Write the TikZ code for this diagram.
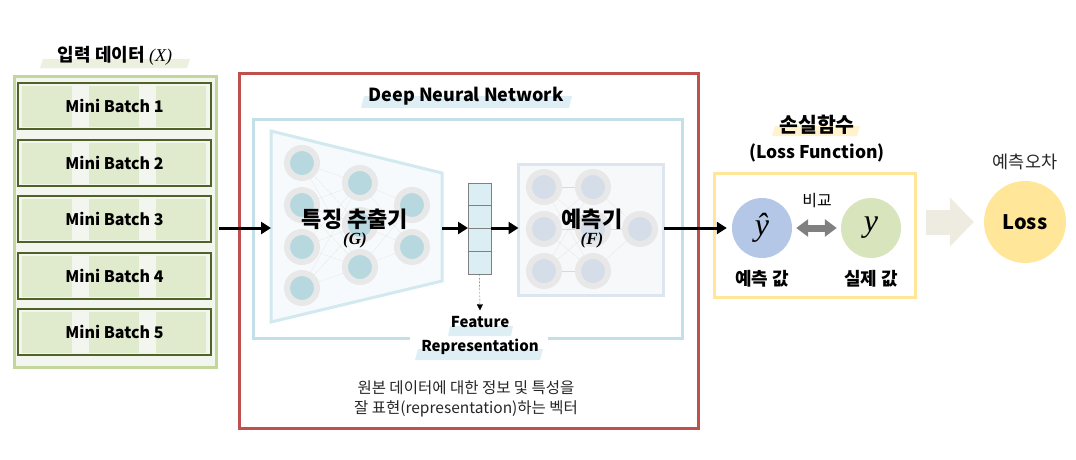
\documentclass[tikz,border=0pt]{standalone}
\usepackage{fontspec}
\setmainfont{Noto Sans CJK KR}
\newfontfamily\symserif{Liberation Serif}
\usetikzlibrary{positioning,calc,arrows.meta}

\definecolor{inborder}{HTML}{C4D79B}
\definecolor{infill}{HTML}{F3F6EE}
\definecolor{batchline}{HTML}{4F6228}
\definecolor{patchgreen}{HTML}{E0EACD}
\definecolor{hlgreen}{HTML}{EBF1DE}
\definecolor{hlblue}{HTML}{DDEFF4}
\definecolor{hlyellow}{HTML}{FFF2CC}
\definecolor{dnnred}{HTML}{C0504D}
\definecolor{netblue}{HTML}{C3E0E8}
\definecolor{trapline}{HTML}{D2E9F0}
\definecolor{trapfill}{HTML}{F7FAFC}
\definecolor{ringgray}{HTML}{E8E8E8}
\definecolor{cellG}{HTML}{B7D8DF}
\definecolor{cellF}{HTML}{D5DDE9}
\definecolor{wiregray}{HTML}{D9D9D9}
\definecolor{vecfill}{HTML}{DBEEF4}
\definecolor{fline}{HTML}{DCE5F0}
\definecolor{ffill}{HTML}{F7F8FA}
\definecolor{lossline}{HTML}{FFE699}
\definecolor{predblue}{HTML}{B4C7E7}
\definecolor{truegreen}{HTML}{D8E4BC}
\definecolor{palearrow}{HTML}{EEECE1}
\definecolor{desctext}{HTML}{262626}

\begin{document}
\begin{tikzpicture}[x=1pt,y=-1pt]

\tikzstyle{batch}=[draw=batchline,line width=2pt,outer sep=0pt,minimum width=193pt,minimum height=46pt,font=\fontsize{16}{19}\selectfont\bfseries]
\tikzstyle{patch}=[fill=patchgreen]
\tikzstyle{neuronG}=[circle,draw=ringgray,line width=6pt,fill=cellG,minimum size=30pt,inner sep=0pt]
\tikzstyle{neuronF}=[neuronG,fill=cellF]
\tikzstyle{wire}=[ultra thin,draw=wiregray]
\tikzstyle{flow}=[line width=3pt,-{Triangle[length=10pt,width=12pt]}]
\tikzstyle{title}=[font=\fontsize{18}{22}\selectfont\bfseries]
\tikzstyle{netname}=[font=\fontsize{22}{26}\selectfont\bfseries,inner sep=1pt]
\tikzstyle{netsym}=[font=\fontsize{17}{20}\selectfont\symserif\bfseries\itshape,inner sep=1pt]
\tikzstyle{valname}=[font=\fontsize{18}{22}\selectfont\bfseries]
\tikzstyle{valsym}=[circle,minimum size=60pt,inner sep=0pt,font=\fontsize{32}{36}\selectfont\symserif\itshape]

\useasboundingbox (0,0) rectangle (1076,459);

\coordinate (axis) at (0,228);

% Input data

\fill[hlgreen] (43,59) -- (190,59) -- (187,68) -- (40,68) -- cycle;
\node (xtitle) [title] at (115,56) {입력 데이터 {\symserif\mdseries\itshape(X)}};

\node (inbox) [draw=inborder,fill=infill,line width=3pt,outer sep=0pt,minimum width=202pt,minimum height=291pt,anchor=north west] at (14.5,76.5) {};

\foreach \i in {1,...,5}{
  \pgfmathsetmacro{\yc}{106+(\i-1)*56.5}
  \foreach \px in {22,89,156}
    \fill[patch] (\px,\yc-20) rectangle ++(50,41);
  \node (batch\i) [batch] at (114.5,\yc) {Mini Batch \i};
}

% Deep neural network

\node (dnn) [draw=dnnred,line width=3pt,outer sep=0pt,minimum width=459pt,minimum height=355pt,anchor=north west] at (239.5,73.5) {};

\fill[hlblue] (364,96) -- (572,96) -- (569,108) -- (361,108) -- cycle;
\node (dnntitle) [title] at (466,96) {Deep Neural Network};

\draw [netblue,line width=3pt] (410,338) -- (253.5,338) -- (253.5,119.5) -- (682.5,119.5) -- (682.5,338) -- (548,338);

% Feature extractor G

\draw [trapline,fill=trapfill,line width=3pt] (271,131) coordinate (tnw) -- (442,173) coordinate (tne) -- (442,281) coordinate (tse) -- (271,322) coordinate (tsw) -- cycle;

\foreach \n/\x/\y in {g11/302/163,g12/302/205,g13/302/247,g14/302/288,g21/360/183,g22/360/225,g23/360/267,g31/412/205,g32/412/247}
  \node (\n) [neuronG] at (\x,\y) {};

\foreach \a in {g11,g12,g13,g14}
  \foreach \b in {g21,g22,g23}
    \draw [wire] (\a) -- (\b);
\foreach \a in {g21,g22,g23}
  \foreach \b in {g31,g32}
    \draw [wire] (\a) -- (\b);

\node (gname) [netname] at (355,219) {특징 추출기};
\node (gsym) [netsym,below=1pt of gname] {(G)};

% Feature representation

\node (fvec) [draw=gray,fill=vecfill,thick,outer sep=0pt,minimum width=23pt,minimum height=91pt] at (479.5,228.5) {};
\foreach \k in {1,2,3}
  \draw [gray,thick] ($(fvec.north west)!\k/4!(fvec.south west)$) -- ($(fvec.north east)!\k/4!(fvec.south east)$);

\fill[hlblue] (450,326) -- (513,326) -- (511,336) -- (448,336) -- cycle;
\fill[hlblue] (418,349) -- (543,349) -- (540,360) -- (415,360) -- cycle;
\node (featlab) [align=center,font=\fontsize{15}{24}\selectfont\bfseries] at (480,335) {Feature\\Representation};

\draw [densely dotted,-{Triangle[length=6pt,width=6pt]},shorten >=2pt] (fvec.south) -- (featlab.north);

% Predictor F

\node (fbox) [draw=fline,fill=ffill,line width=3pt,outer sep=0pt,minimum width=145pt,minimum height=131pt] at (591,230) {};

\foreach \n/\x/\y in {f11/544/187,f12/544/229,f13/544/271,f21/593/187,f22/593/229,f23/593/271,f31/640/229}
  \node (\n) [neuronF] at (\x,\y) {};

\foreach \a in {f11,f12,f13}
  \foreach \b in {f21,f22,f23}
    \draw [wire] (\a) -- (\b);
\foreach \a in {f21,f22,f23}
  \draw [wire] (\a) -- (f31);

\node (fname) [netname] at (592,219) {예측기};
\node (fsym) [netsym,below=1pt of fname] {(F)};

\node (desc) [align=center,text=desctext,font=\fontsize{15.5}{20}\selectfont] at (466,399) {원본 데이터에 대한 정보 및 특성을\\잘 표현(representation)하는 벡터};

% Loss function

\fill[hlyellow] (775,126) -- (860,126) -- (857,136) -- (772,136) -- cycle;
\node (losstitle) [font=\fontsize{20.5}{24}\selectfont\bfseries] at (817,125) {손실함수};
\node (lossfn) [font=\fontsize{17.5}{21}\selectfont\bfseries] at (817,153) {(Loss Function)};

\node (lossbox) [draw=lossline,line width=3pt,outer sep=0pt,minimum width=201pt,minimum height=124pt] at (815,235.5) {};

\node (yhat) [valsym,fill=predblue] at (762,228) {ŷ};
\node (ytrue) [valsym,fill=truegreen] at (871,228) {y};

\draw [gray,line width=7pt,{Triangle[length=12pt,width=17pt]}-{Triangle[length=12pt,width=17pt]},shorten <=4pt,shorten >=4pt] (yhat) -- (ytrue);
\node (cmplab) [font=\fontsize{16}{19}\selectfont] at (817,201) {비교};

\node (predlab) [valname] at (762,279) {예측 값};
\node (truelab) [valname] at (871,279) {실제 값};

% Loss

\node (loss) [circle,fill=lossline,minimum size=82pt,inner sep=0pt,font=\fontsize{20}{24}\selectfont\bfseries] at (1025,222) {Loss};
\node (errlab) [text=desctext,font=\fontsize{17.5}{21}\selectfont] at (1025,162) {예측오차};

\draw [palearrow,line width=25pt,-{Triangle[length=24pt,width=48pt]},shorten <=10pt,shorten >=10pt] (lossbox.east |- loss) -- (loss.west);

% Arrows

\draw [flow,shorten <=2pt] (inbox.east |- axis) -- (tnw |- axis);
\draw [flow] (tne |- axis) -- (fvec.west |- axis);
\draw [flow] (fvec.east |- axis) -- (fbox.west |- axis);
\draw [flow,shorten >=5pt] (fbox.east |- yhat.west) -- (yhat.west);

\end{tikzpicture}
\end{document}
